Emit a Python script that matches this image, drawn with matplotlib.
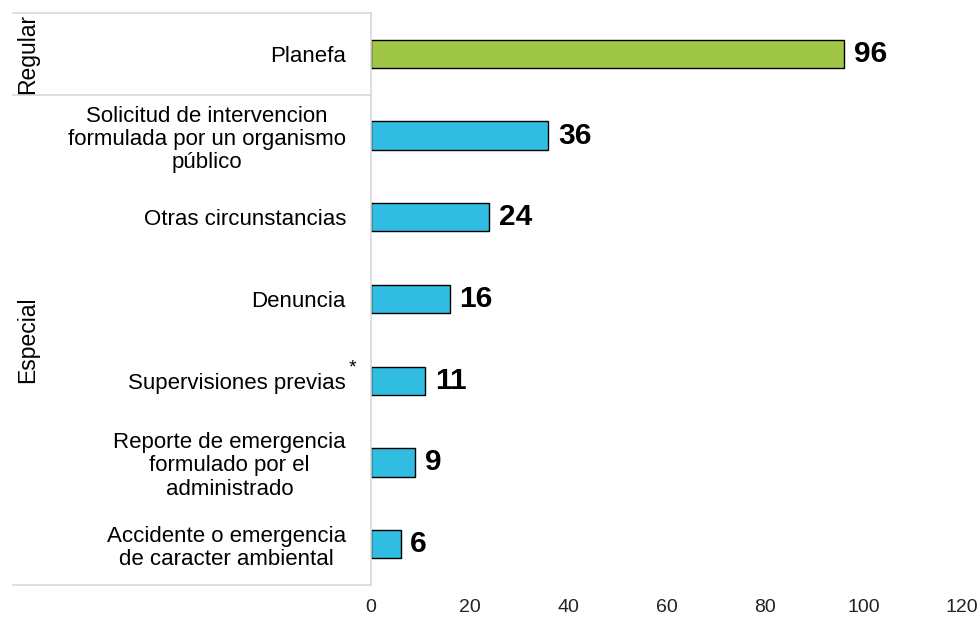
import matplotlib
matplotlib.use("Agg")
import matplotlib.pyplot as plt
import matplotlib.transforms as mtransforms

plt.rcParams['font.family'] = ['Liberation Sans', 'DejaVu Sans']

categories = [
    "Planefa",
    "Solicitud de intervencion\nformulada por un organismo\npúblico",
    "Otras circunstancias",
    "Denuncia",
    "Supervisiones previas",
    "Reporte de emergencia\nformulado por el\nadministrado",
    "Accidente o emergencia\nde caracter ambiental",
]
values = [96, 36, 24, 16, 11, 9, 6]
groups = ["Regular", "Especial", "Especial", "Especial", "Especial", "Especial", "Especial"]
xticks = [0, 20, 40, 60, 80, 100, 120]

colors = {"Regular": "#9FC646", "Especial": "#30BDE1"}
W, H = 979, 617
fig = plt.figure(figsize=(W / 100, H / 100), dpi=100)

# axes placement in pixels
left, right, top, bottom = 371, 962, 13, 585
ax = fig.add_axes([left / W, 1 - bottom / H, (right - left) / W, (bottom - top) / H])

ypos = list(range(len(categories)))
ax.barh(ypos, values, height=0.345,
        color=[colors[g] for g in groups], edgecolor="black", linewidth=1.0)
ax.set_ylim(len(categories) - 0.5, -0.5)
ax.set_xlim(0, 120)

for y, v in zip(ypos, values):
    ax.annotate(str(v), (v, y), xytext=(7, 0), textcoords="offset points",
                ha="left", va="center", fontsize=21.5, fontweight="bold")

ax.set_yticks(ypos)
ax.set_yticklabels(categories, fontsize=16, multialignment="center", linespacing=1.13)
ax.tick_params(axis="y", length=0, pad=18)
ax.set_xticks(xticks)
ax.set_xticklabels([str(t) for t in xticks], fontsize=14, color="#222222")
ax.tick_params(axis="x", length=0, pad=10)

for s in ["top", "right", "bottom"]:
    ax.spines[s].set_visible(False)
ax.spines["left"].set_color("#d9d9d9")
ax.spines["left"].set_linewidth(1.2)

# group separators spanning the label area
trans = mtransforms.blended_transform_factory(ax.transAxes, ax.transData)
x0 = (13 - left) / (right - left)
for yb in [-0.5, 0.5, len(categories) - 0.5]:
    ax.plot([x0, 0], [yb, yb], transform=trans, color="#d9d9d9",
            linewidth=1.2, clip_on=False)

xg = (28 - left) / (right - left)
ax.text(xg, 0, "Regular", transform=trans, rotation=90, ha="center",
        va="center", fontsize=16.5)
ax.text(xg, (0.5 + len(categories) - 0.5) / 2, "Especial", transform=trans,
        rotation=90, ha="center", va="center", fontsize=16.5)

# footnote marker on "Supervisiones previas"
ax.annotate("*", (0, 4), xycoords=trans, xytext=(-13, 9), textcoords="offset points",
            fontsize=14, ha="center", va="center")

fig.savefig("out.png", dpi=100)
